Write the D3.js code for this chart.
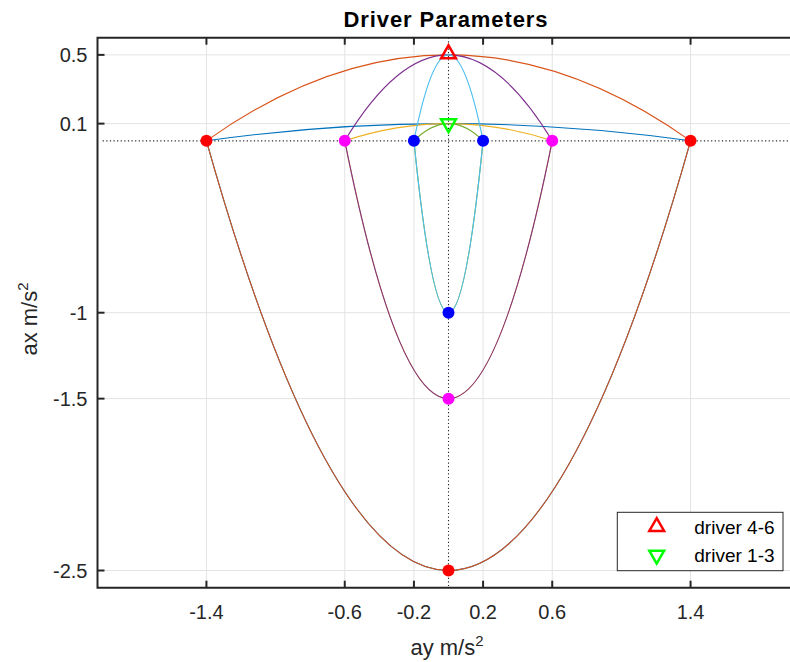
<!DOCTYPE html>
<html>
<head>
<meta charset="utf-8">
<script src="https://cdn.jsdelivr.net/npm/d3@7"></script>
<style>
  body { margin: 0; background: #fff; }
  svg { font-family: "Liberation Sans", Arial, Helvetica, sans-serif; }
  .tick-label { font-size: 20px; fill: #262626; }
  .grid line { stroke: #e3e3e3; stroke-width: 1; }
  .guide { stroke: #262626; stroke-width: 1.1; stroke-dasharray: 1.2 2.4; fill: none; }
  .curve { fill: none; stroke-width: 1.1; }
</style>
</head>
<body>
<svg width="790" height="662"></svg>
<script>
// axis ticks
var xTicks = [-1.4, -0.6, -0.2, 0.2, 0.6, 1.4];
var yTicks = [0.5, 0.1, -1, -1.5, -2.5];

// drivers: half width in ay, peak ax (upper arc), trough ax (lower arc)
var driverNames = ["driver 1", "driver 2", "driver 3", "driver 4", "driver 5", "driver 6"];
var driverWidth = [1.4, 1.4, 0.6, 0.6, 0.2, 0.2];
var driverPeak = [0.1, 0.5, 0.1, 0.5, 0.1, 0.5];
var driverTrough = [-2.5, -2.5, -1.5, -1.5, -1, -1];
var driverColors = ["#0072BD", "#D95319", "#EDB120", "#7E2F8E", "#77AC30", "#4DBEEE"];

// dot markers
var dotAy = [-1.4, 1.4, 0, -0.6, 0.6, 0, -0.2, 0.2, 0];
var dotAx = [0, 0, -2.5, 0, 0, -1.5, 0, 0, -1];
var dotColors = ["#ff0000", "#ff0000", "#ff0000", "#ff00ff", "#ff00ff", "#ff00ff", "#0000ff", "#0000ff", "#0000ff"];

// triangle markers (legend entries)
var triLabels = ["driver 4-6", "driver 1-3"];
var triAx = [0.5, 0.1];
var triColors = ["#ff0000", "#00ff00"];
var triRotate = [0, 180];

var plotLeft = 97.5, plotTop = 37.7, plotRight = 799.5, plotBottom = 587.7;

var x = d3.scaleLinear().domain([-2.03, 2.03]).range([plotLeft, plotRight]);
var y = d3.scaleLinear().domain([-2.6, 0.6]).range([plotBottom, plotTop]);

var svg = d3.select("svg");

// grid
var grid = svg.append("g").attr("class", "grid");
grid.selectAll("line.gx").data(xTicks).enter().append("line")
  .attr("x1", function(d) { return x(d); }).attr("x2", function(d) { return x(d); })
  .attr("y1", plotTop).attr("y2", plotBottom);
grid.selectAll("line.gy").data(yTicks).enter().append("line")
  .attr("y1", function(d) { return y(d); }).attr("y2", function(d) { return y(d); })
  .attr("x1", plotLeft).attr("x2", plotRight);

// dotted zero lines
svg.append("line").attr("class", "guide")
  .attr("x1", x(-2)).attr("x2", x(2)).attr("y1", y(0)).attr("y2", y(0));
svg.append("line").attr("class", "guide")
  .attr("x1", x(0)).attr("x2", x(0)).attr("y1", y(0.6)).attr("y2", y(-2.6));

// curves: parabola arcs as quadratic beziers (control point at twice the apex)
function arc(w, h) {
  var p = d3.path();
  p.moveTo(x(-w), y(0));
  p.quadraticCurveTo(x(0), y(2 * h), x(w), y(0));
  return p.toString();
}

var curves = svg.append("g");
driverNames.forEach(function(name, i) {
  curves.append("path").attr("class", "curve")
    .attr("stroke", driverColors[i])
    .attr("d", arc(driverWidth[i], driverPeak[i]) + arc(driverWidth[i], driverTrough[i]));
});

// dots
svg.append("g").selectAll("circle").data(dotAy).enter().append("circle")
  .attr("cx", function(d) { return x(d); })
  .attr("cy", function(d, i) { return y(dotAx[i]); })
  .attr("r", 6)
  .attr("fill", function(d, i) { return dotColors[i]; });

var tri = d3.symbol().type(d3.symbolTriangle).size(95);

svg.append("g").selectAll("path").data(triAx).enter().append("path")
  .attr("d", tri)
  .attr("transform", function(d, i) { return "translate(" + x(0) + "," + (y(d) + (i == 0 ? -1 : 0)) + ") rotate(" + triRotate[i] + ")"; })
  .attr("fill", "none")
  .attr("stroke", function(d, i) { return triColors[i]; })
  .attr("stroke-width", 2.5);

// axes box and ticks
var axisColor = "#262626";
svg.append("path")
  .attr("d", "M" + plotRight + "," + plotTop + "H" + plotLeft + "V" + plotBottom + "H" + plotRight)
  .attr("fill", "none").attr("stroke", axisColor).attr("stroke-width", 2);

var tickLen = 7;
svg.append("g").selectAll("line").data(xTicks).enter().append("line")
  .attr("x1", function(d) { return x(d); }).attr("x2", function(d) { return x(d); })
  .attr("y1", plotBottom).attr("y2", plotBottom - tickLen)
  .attr("stroke", axisColor).attr("stroke-width", 2);
svg.append("g").selectAll("line").data(xTicks).enter().append("line")
  .attr("x1", function(d) { return x(d); }).attr("x2", function(d) { return x(d); })
  .attr("y1", plotTop).attr("y2", plotTop + tickLen)
  .attr("stroke", axisColor).attr("stroke-width", 2);
svg.append("g").selectAll("line").data(yTicks).enter().append("line")
  .attr("y1", function(d) { return y(d); }).attr("y2", function(d) { return y(d); })
  .attr("x1", plotLeft).attr("x2", plotLeft + tickLen)
  .attr("stroke", axisColor).attr("stroke-width", 2);

svg.append("g").selectAll("text").data(xTicks).enter().append("text")
  .attr("class", "tick-label")
  .attr("x", function(d) { return x(d); })
  .attr("y", plotBottom + 31)
  .attr("text-anchor", "middle")
  .text(function(d) { return d; });
svg.append("g").selectAll("text").data(yTicks).enter().append("text")
  .attr("class", "tick-label")
  .attr("x", plotLeft - 10)
  .attr("y", function(d) { return y(d); })
  .attr("dy", "0.35em")
  .attr("text-anchor", "end")
  .text(function(d) { return d; });

// title and labels
svg.append("text")
  .attr("x", 446).attr("y", 26.7)
  .attr("text-anchor", "middle")
  .style("font-size", "22px").style("font-weight", "bold").style("fill", "#000")
  .style("letter-spacing", "0.9px")
  .text("Driver Parameters");

var xl = svg.append("text")
  .attr("x", 447).attr("y", 655)
  .attr("text-anchor", "middle")
  .style("font-size", "22px").style("fill", "#262626");
xl.append("tspan").text("ay m/s");
xl.append("tspan").attr("dy", -9).style("font-size", "15px").text("2");

var yl = svg.append("text")
  .attr("transform", "translate(37,319) rotate(-90)")
  .attr("text-anchor", "middle")
  .style("font-size", "22px").style("fill", "#262626");
yl.append("tspan").text("ax m/s");
yl.append("tspan").attr("dy", -9).style("font-size", "15px").text("2");

// legend
var legend = svg.append("g");
legend.append("rect")
  .attr("x", 617.3).attr("y", 512.3).attr("width", 165.7).attr("height", 58.4)
  .attr("fill", "#fff").attr("stroke", axisColor).attr("stroke-width", 1);
triLabels.forEach(function(label, i) {
  var cy = 526.7 + i * 28.3;
  legend.append("path")
    .attr("d", tri)
    .attr("transform", "translate(656.7," + cy + ") rotate(" + triRotate[i] + ")")
    .attr("fill", "none").attr("stroke", triColors[i]).attr("stroke-width", 2.5);
  legend.append("text")
    .attr("x", 694.3).attr("y", cy)
    .attr("dy", "0.36em")
    .style("font-size", "19px").style("fill", "#000")
    .text(label);
});
</script>
</body>
</html>
